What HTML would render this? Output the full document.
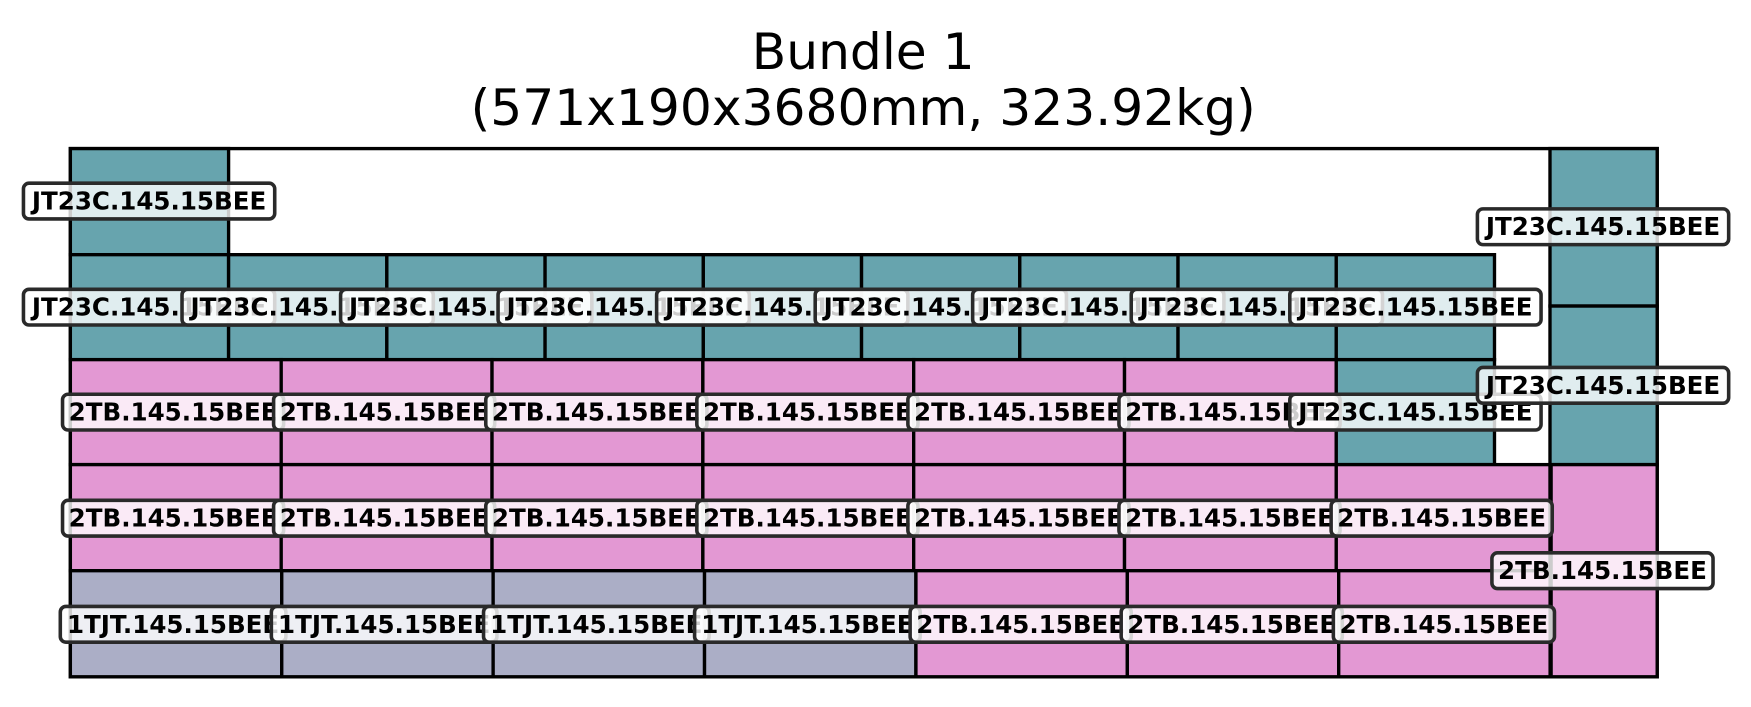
<!DOCTYPE html>
<html><head><meta charset="utf-8"><style>
html,body{margin:0;padding:0;background:#fff;}
svg{display:block}
.t{font-family:"DejaVu Sans","Liberation Sans",sans-serif;font-weight:bold;font-size:22px;fill:#000;text-anchor:middle;dominant-baseline:central}
.b{fill:#fff;fill-opacity:0.8;stroke:#2a2a2a;stroke-width:3.2}
.tl{fill:#67a4ae;stroke:#000;stroke-width:3}
.pk{fill:#e398d3;stroke:#000;stroke-width:3}
.lv{fill:#abaec6;stroke:#000;stroke-width:3}
.h{font-family:'DejaVu Sans','Liberation Sans',sans-serif;font-size:45px;text-anchor:middle;dominant-baseline:central}
</style></head><body>
<svg width="1751" height="707" viewBox="0 0 1568 633" xmlns="http://www.w3.org/2000/svg">
<text class="h" x="773" y="46">Bundle 1</text>
<text class="h" x="773" y="96">(571x190x3680mm, 323.92kg)</text>
<rect x="63" y="133" width="1421" height="473" fill="#fff" stroke="#000" stroke-width="3"/>
<rect class="tl" x="63" y="133" width="141.7" height="95"/>
<rect class="tl" x="63" y="228" width="141.7" height="94"/>
<rect class="tl" x="204.7" y="228" width="141.7" height="94"/>
<rect class="tl" x="346.4" y="228" width="141.7" height="94"/>
<rect class="tl" x="488.1" y="228" width="141.7" height="94"/>
<rect class="tl" x="629.8" y="228" width="141.7" height="94"/>
<rect class="tl" x="771.5" y="228" width="141.7" height="94"/>
<rect class="tl" x="913.2" y="228" width="141.7" height="94"/>
<rect class="tl" x="1054.9" y="228" width="141.7" height="94"/>
<rect class="tl" x="1196.6" y="228" width="141.7" height="94"/>
<rect class="pk" x="63" y="322" width="188.8" height="94"/>
<rect class="pk" x="251.8" y="322" width="188.8" height="94"/>
<rect class="pk" x="440.6" y="322" width="188.8" height="94"/>
<rect class="pk" x="629.4" y="322" width="188.8" height="94"/>
<rect class="pk" x="818.2" y="322" width="188.8" height="94"/>
<rect class="pk" x="1007" y="322" width="189.6" height="94"/>
<rect class="tl" x="1196.6" y="322" width="141.7" height="94"/>
<rect class="pk" x="63" y="416" width="188.8" height="95"/>
<rect class="pk" x="251.8" y="416" width="188.8" height="95"/>
<rect class="pk" x="440.6" y="416" width="188.8" height="95"/>
<rect class="pk" x="629.4" y="416" width="188.8" height="95"/>
<rect class="pk" x="818.2" y="416" width="188.8" height="95"/>
<rect class="pk" x="1007" y="416" width="189.6" height="95"/>
<rect class="pk" x="1196.6" y="416" width="191.4" height="95"/>
<rect class="lv" x="63" y="511" width="189.3" height="95"/>
<rect class="lv" x="252.3" y="511" width="189.3" height="95"/>
<rect class="lv" x="441.6" y="511" width="189.3" height="95"/>
<rect class="lv" x="630.9" y="511" width="189.3" height="95"/>
<rect class="pk" x="820.2" y="511" width="189.3" height="95"/>
<rect class="pk" x="1009.5" y="511" width="189.3" height="95"/>
<rect class="pk" x="1198.8" y="511" width="189.3" height="95"/>
<rect class="tl" x="1388" y="133" width="96" height="141"/>
<rect class="tl" x="1388" y="274" width="96" height="142"/>
<rect class="pk" x="1389" y="416" width="95" height="190"/>

<rect class="b" x="21" y="164" width="225" height="32" rx="5"/><text class="t" x="133.5" y="180">JT23C.145.15BEE</text>
<rect class="b" x="21" y="259" width="225" height="32" rx="5"/><text class="t" x="133.5" y="275">JT23C.145.15BEE</text>
<rect class="b" x="163" y="259" width="225" height="32" rx="5"/><text class="t" x="275.5" y="275">JT23C.145.15BEE</text>
<rect class="b" x="305" y="259" width="225" height="32" rx="5"/><text class="t" x="417.5" y="275">JT23C.145.15BEE</text>
<rect class="b" x="446" y="259" width="225" height="32" rx="5"/><text class="t" x="558.5" y="275">JT23C.145.15BEE</text>
<rect class="b" x="588" y="259" width="225" height="32" rx="5"/><text class="t" x="700.5" y="275">JT23C.145.15BEE</text>
<rect class="b" x="730" y="259" width="225" height="32" rx="5"/><text class="t" x="842.5" y="275">JT23C.145.15BEE</text>
<rect class="b" x="871" y="259" width="225" height="32" rx="5"/><text class="t" x="983.5" y="275">JT23C.145.15BEE</text>
<rect class="b" x="1013" y="259" width="225" height="32" rx="5"/><text class="t" x="1125.5" y="275">JT23C.145.15BEE</text>
<rect class="b" x="1155" y="259" width="225" height="32" rx="5"/><text class="t" x="1267.5" y="275">JT23C.145.15BEE</text>

<rect class="b" x="1323" y="187" width="225" height="32" rx="5"/><text class="t" x="1435.5" y="203">JT23C.145.15BEE</text>

<rect class="b" x="56" y="353" width="198" height="32" rx="5"/><text class="t" x="155" y="369">2TB.145.15BEE</text>
<rect class="b" x="245" y="353" width="198" height="32" rx="5"/><text class="t" x="344" y="369">2TB.145.15BEE</text>
<rect class="b" x="435" y="353" width="198" height="32" rx="5"/><text class="t" x="534" y="369">2TB.145.15BEE</text>
<rect class="b" x="624" y="353" width="198" height="32" rx="5"/><text class="t" x="723" y="369">2TB.145.15BEE</text>
<rect class="b" x="813" y="353" width="198" height="32" rx="5"/><text class="t" x="912" y="369">2TB.145.15BEE</text>
<rect class="b" x="1002" y="353" width="198" height="32" rx="5"/><text class="t" x="1101" y="369">2TB.145.15BEE</text>
<rect class="b" x="1155" y="353" width="225" height="32" rx="5"/><text class="t" x="1267.5" y="369">JT23C.145.15BEE</text>

<rect class="b" x="1323" y="329" width="225" height="32" rx="5"/><text class="t" x="1435.5" y="345">JT23C.145.15BEE</text>

<rect class="b" x="56" y="448" width="198" height="32" rx="5"/><text class="t" x="155" y="464">2TB.145.15BEE</text>
<rect class="b" x="245" y="448" width="198" height="32" rx="5"/><text class="t" x="344" y="464">2TB.145.15BEE</text>
<rect class="b" x="435" y="448" width="198" height="32" rx="5"/><text class="t" x="534" y="464">2TB.145.15BEE</text>
<rect class="b" x="624" y="448" width="198" height="32" rx="5"/><text class="t" x="723" y="464">2TB.145.15BEE</text>
<rect class="b" x="813" y="448" width="198" height="32" rx="5"/><text class="t" x="912" y="464">2TB.145.15BEE</text>
<rect class="b" x="1002" y="448" width="198" height="32" rx="5"/><text class="t" x="1101" y="464">2TB.145.15BEE</text>
<rect class="b" x="1192" y="448" width="198" height="32" rx="5"/><text class="t" x="1291" y="464">2TB.145.15BEE</text>

<rect class="b" x="1336" y="495" width="198" height="32" rx="5"/><text class="t" x="1435" y="511">2TB.145.15BEE</text>

<rect class="b" x="54" y="543" width="202" height="32" rx="5"/><text class="t" x="155" y="559">1TJT.145.15BEE</text>
<rect class="b" x="243" y="543" width="202" height="32" rx="5"/><text class="t" x="344" y="559">1TJT.145.15BEE</text>
<rect class="b" x="433" y="543" width="202" height="32" rx="5"/><text class="t" x="534" y="559">1TJT.145.15BEE</text>
<rect class="b" x="622" y="543" width="202" height="32" rx="5"/><text class="t" x="723" y="559">1TJT.145.15BEE</text>
<rect class="b" x="815" y="543" width="198" height="32" rx="5"/><text class="t" x="914" y="559">2TB.145.15BEE</text>
<rect class="b" x="1004" y="543" width="198" height="32" rx="5"/><text class="t" x="1103" y="559">2TB.145.15BEE</text>
<rect class="b" x="1194" y="543" width="198" height="32" rx="5"/><text class="t" x="1293" y="559">2TB.145.15BEE</text>
</svg>
</body></html>
